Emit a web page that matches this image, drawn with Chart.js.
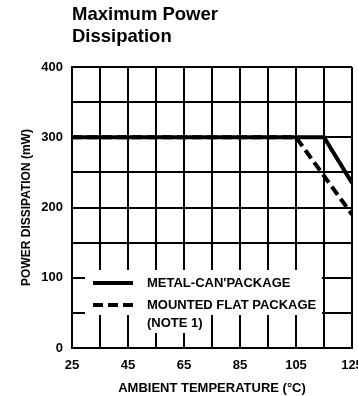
<!DOCTYPE html>
<html><head><meta charset="utf-8">
<script src="https://cdn.jsdelivr.net/npm/chart.js@4.4.0/dist/chart.umd.min.js"></script>
<style>html,body{margin:0;padding:0;background:#fff;overflow:hidden}</style>
</head><body>
<canvas id="c" width="358" height="396"></canvas>
<script>
const titleLines = ['Maximum Power', 'Dissipation'];
const xTitle = 'AMBIENT TEMPERATURE (°C)';
const yTitle = 'POWER DISSIPATION (mW)';
const xTickLabels = [25, 45, 65, 85, 105, 125];
const yTickLabels = [0, 100, 200, 300, 400];
const metalCanTemp = [25, 115, 125];
const metalCanPower = [300, 300, 235];
const flatTemp = [25, 105, 125];
const flatPower = [300, 300, 190];
const metalCanLabel = ["METAL-CAN'PACKAGE"];
const flatLabel = ['MOUNTED FLAT PACKAGE', '(NOTE 1)'];

const FONT = "'Liberation Sans', Arial, sans-serif";

const toPoints = (xs, ys) => xs.map((x, i) => ({ x: x, y: ys[i] }));

const inlineLegend = {
  id: 'inlineLegend',
  afterDatasetsDraw(chart) {
    const { ctx, chartArea: a } = chart;
    ctx.save();
    ctx.fillStyle = '#fff';
    ctx.fillRect(a.left + 13, a.top + 203, 237, 45);
    ctx.fillRect(a.left + 70, a.top + 248, 62, 18);
    const rows = [a.top + 216, a.top + 238];
    chart.data.datasets.forEach((ds, i) => {
      const y = rows[i];
      ctx.strokeStyle = '#000';
      ctx.lineWidth = 4;
      ctx.setLineDash(ds.borderDash || []);
      ctx.beginPath();
      ctx.moveTo(a.left + 21, y);
      ctx.lineTo(a.left + 61, y);
      ctx.stroke();
      ctx.setLineDash([]);
      ctx.fillStyle = '#000';
      ctx.font = "bold 13px " + FONT;
      ctx.textBaseline = 'middle';
      ctx.textAlign = 'left';
      ds.label.forEach((t, j) => ctx.fillText(t, a.left + 75, y + j * 18));
    });
    ctx.restore();
  }
};

new Chart(document.getElementById('c'), {
  type: 'line',
  data: {
    datasets: [
      { label: metalCanLabel, data: toPoints(metalCanTemp, metalCanPower),
        borderColor: '#000', borderWidth: 4, pointRadius: 0, order: 0, tension: 0 },
      { label: flatLabel, data: toPoints(flatTemp, flatPower),
        borderColor: '#000', borderWidth: 4, borderDash: [10, 5], pointRadius: 0, order: 1, tension: 0 }
    ]
  },
  options: {
    responsive: false,
    animation: false,
    devicePixelRatio: 1,
    layout: { padding: { top: 0, right: 6, bottom: 0, left: 0 } },
    plugins: {
      legend: { display: false },
      tooltip: { enabled: false },
      title: {
        display: true, text: titleLines, align: 'start', fullSize: false, color: '#000',
        font: { family: FONT, size: 18.5, weight: 'bold', lineHeight: 1.2 },
        padding: { top: 4, bottom: 18.6 }
      }
    },
    scales: {
      x: {
        type: 'linear', min: 25, max: 125,
        ticks: {
          stepSize: 10, autoSkip: false, maxRotation: 0, color: '#000', padding: 10,
          font: { family: FONT, size: 13, weight: 'bold' },
          callback: v => xTickLabels.includes(v) ? String(v) : ''
        },
        grid: { color: '#000', lineWidth: 2, drawTicks: false },
        border: { color: '#000', width: 2 },
        title: { display: true, text: xTitle, color: '#000',
          font: { family: FONT, size: 13, weight: 'bold' }, padding: { top: 0, bottom: 0 } },
        afterFit: s => { s.height = 48; s.paddingLeft = 0; s.paddingRight = 0; }
      },
      y: {
        min: 0, max: 400,
        ticks: {
          stepSize: 50, autoSkip: false, color: '#000', padding: 9,
          font: { family: FONT, size: 13, weight: 'bold' },
          callback: v => yTickLabels.includes(v) ? String(v) : ''
        },
        grid: { color: '#000', lineWidth: 2, drawTicks: false },
        border: { color: '#000', width: 2 },
        title: { display: true, text: yTitle, color: '#000',
          font: { family: FONT, size: 12, weight: 'bold' }, padding: { top: 19, bottom: 0 } },
        afterFit: s => { s.width = 72; s.paddingTop = 0; s.paddingBottom = 0; }
      }
    }
  },
  plugins: [inlineLegend]
});
</script>
</body></html>
